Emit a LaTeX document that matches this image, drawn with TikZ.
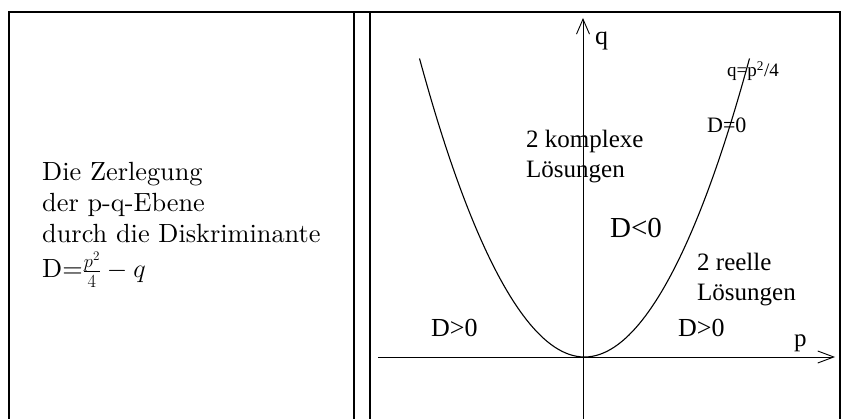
\RequirePackage{fix-cm}
\documentclass[tikz,border=0pt]{standalone}
\usepackage{fontspec}
\newfontfamily\tms{Liberation Serif}
\newfontfamily\lmten{lmroman10-regular}[Extension=.otf]
\usetikzlibrary{arrows.meta}
\begin{document}
\begin{tikzpicture}[x=1pt,y=-1pt,
  frame/.style={line width=1.5pt},
  axis/.style={line width=0.9pt},
  curve/.style={line width=1.1pt},
  lbl/.style={inner sep=0pt,anchor=base west,align=left,font=\tms\fontsize{25}{30}\selectfont},
  desc/.style={inner sep=0pt,anchor=base west,font=\lmten\fontsize{26.3}{31}\selectfont},
  qtip/.style={-{Straight Barb[length=15pt,width=13pt,line width=0.9pt]}},
  ptip/.style={-{Straight Barb[length=16pt,width=12pt,line width=0.9pt]}}]
\useasboundingbox (0,0) rectangle (844,419);
% frame
\draw[frame] (8,12) -- (841,12);
\draw[frame] (9,12) -- (9,420);
\draw[frame] (354,12) -- (354,420);
\draw[frame] (370,12) -- (370,420);
\draw[frame] (840,12) -- (840,420);
% left text
\node[desc] (desc1) at (42,181) {Die Zerlegung};
\node[desc] (desc2) at (42,212) {der p-q-Ebene};
\node[desc] (desc3) at (42,243) {durch die Diskriminante};
\node[desc] (desc4) at (42,278) {D=$\frac{p^2}{4}-q$};
% axes
\coordinate (qstart) at (583,420);
\coordinate (qend) at (583,18);
\coordinate (pstart) at (378,357);
\coordinate (pend) at (835,357);
\draw[axis,qtip] (qstart) -- (qend);
\draw[axis,ptip] (pstart) -- (pend);
% parabola
\coordinate (lt) at (419.5,58.5);
\coordinate (vx) at (584.5,357);
\coordinate (rt) at (749.5,58.5);
\draw[curve] (lt) parabola bend (vx) (rt);
% labels
\node[lbl,font=\tms\fontsize{26}{30}\selectfont] (ql) at (595,45) {q};
\node[lbl] (pl) at (794,347) {p};
\node[lbl,font=\tms\fontsize{19}{22}\selectfont] (eq) at (727,77) {q=p\textsuperscript{2}/4};
\node[lbl,font=\tms\fontsize{22}{26}\selectfont] (d0) at (707,133) {D=0};
\node[lbl] (kompl) at (526,178) {2 komplexe\\Lösungen};
\node[lbl,font=\tms\fontsize{29}{34}\selectfont] (dneg) at (610,238) {D<0};
\node[lbl] (reell) at (697,301) {2 reelle\\Lösungen};
\node[lbl,font=\tms\fontsize{26}{30}\selectfont] (dposl) at (431,337) {D>0};
\node[lbl,font=\tms\fontsize{26}{30}\selectfont] (dposr) at (678,337) {D>0};
\end{tikzpicture}
\end{document}
